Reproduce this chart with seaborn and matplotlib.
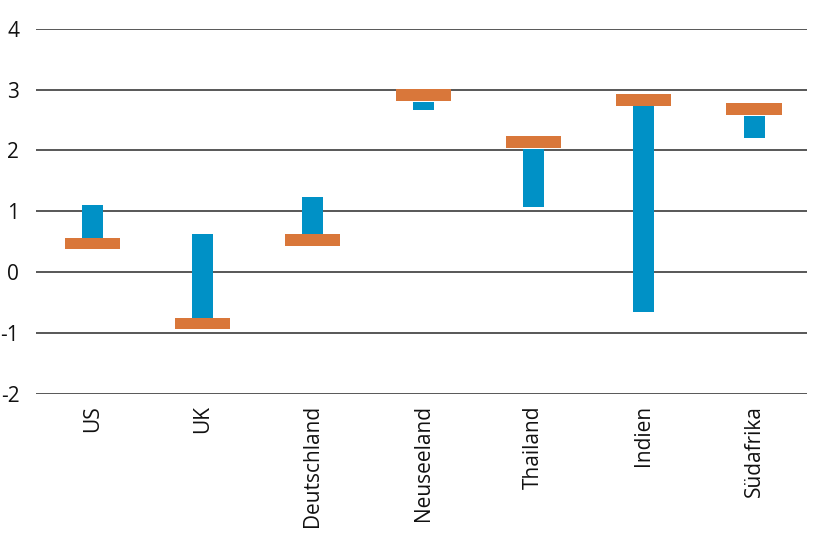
import numpy as np
import pandas as pd
import matplotlib
matplotlib.use("Agg")
import matplotlib.pyplot as plt
import seaborn as sns

# values
countries = ["US", "UK", "Deutschland", "Neuseeland", "Thailand", "Indien", "Südafrika"]
range_low = [0.56, -0.75, 0.62, 2.67, 1.07, -0.66, 2.21]
range_high = [1.10, 0.62, 1.23, 2.80, 2.03, 2.73, 2.57]
marker_val = [0.47, -0.84, 0.53, 2.91, 2.14, 2.83, 2.68]

blue = "#0091C6"
orange = "#D9773A"

sns.set_style("white")
plt.rcParams["font.family"] = ["Open Sans", "DejaVu Sans"]

df = pd.DataFrame({"land": countries, "low": range_low, "high": range_high, "mark": marker_val})
df["span"] = df["high"] - df["low"]
thick = 0.185
df["mark_low"] = df["mark"] - thick / 2

fig = plt.figure(figsize=(8.15, 5.47), dpi=100)
ax = fig.add_axes([36 / 815, 153 / 547, 771 / 815, 365.3 / 547])

sns.barplot(data=df, x="land", y="span", bottom=df["low"].values, color=blue,
            saturation=1, width=0.19, linewidth=0, ax=ax, zorder=3)
sns.barplot(data=df, x="land", y=[thick] * len(df), bottom=df["mark_low"].values, color=orange,
            saturation=1, width=0.5, linewidth=0, ax=ax, zorder=4)

ax.set_ylim(-2, 4)
ax.set_xlim(-0.51, 6.48)
ax.set_yticks(range(-2, 5))
ax.set_yticklabels([str(v) for v in range(-2, 5)])
ax.yaxis.grid(True, color="#2a2a2a", linewidth=1.1)
ax.set_axisbelow(True)
ax.tick_params(axis="y", length=0, pad=12, labelsize=15, labelcolor="#111111")
ax.tick_params(axis="x", length=0, pad=8, labelsize=15, labelcolor="#111111", rotation=90)
for lab in ax.get_yticklabels():
    lab.set_horizontalalignment("right")
for s in ax.spines.values():
    s.set_visible(False)
ax.set_xlabel("")
ax.set_ylabel("")

fig.savefig("out.png", dpi=100)
